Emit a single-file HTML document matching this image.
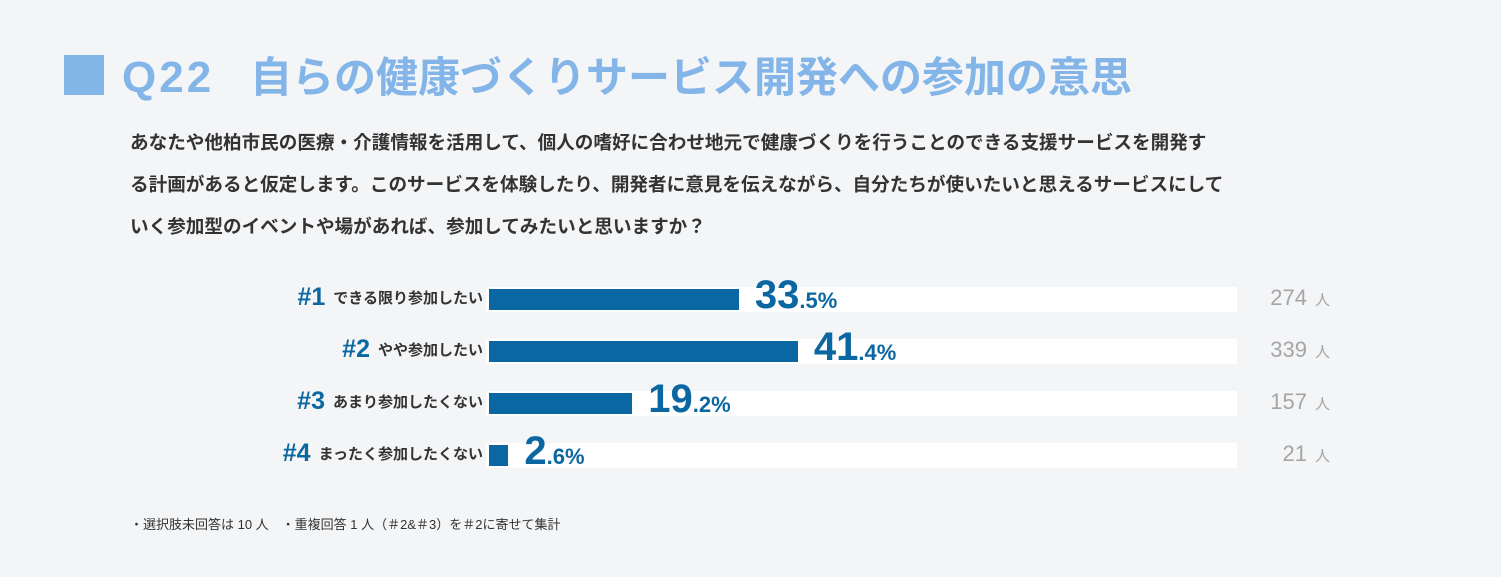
<!DOCTYPE html>
<html><head><meta charset="utf-8"><style>
body{margin:0;width:1501px;height:577px;background:#f4f5f7;font-family:"Liberation Sans","Noto Sans CJK JP",sans-serif;position:relative;overflow:hidden}
.abs{position:absolute}
#title{left:64px;top:52px;font-size:42px;font-weight:bold;color:#83b5e8;white-space:nowrap;line-height:52px}
#title .sq{display:inline-block;width:40px;height:40px;background:#83b5e8;vertical-align:-3px;margin-right:18px}
#title .qn{display:inline-block;width:108px;letter-spacing:3px;margin-right:20px;font-size:44px}
#q{left:130px;top:122px;font-size:18.6px;line-height:42px;color:#333;font-weight:bold;white-space:nowrap}
.lbl{position:absolute;right:1018px;font-size:15px;color:#333;font-weight:bold;white-space:nowrap}
.lbl b{color:#0b67a1;font-size:25px;margin-right:8px;vertical-align:-2px}
.cnt{position:absolute;left:1230px;width:100px;text-align:right;font-size:22px;color:#a5a5a5;white-space:nowrap}
.cnt span{font-size:15px;margin-left:8px}
.pct{position:absolute;color:#0b67a1;font-weight:bold;white-space:nowrap;font-size:40px;letter-spacing:0px}
.pct small{font-size:22px;letter-spacing:0}
#foot{left:130px;top:514px;font-size:13px;color:#333}
</style></head><body>
<div id="title" class="abs"><span class="sq"></span><span class="qn">Q22</span>自らの健康づくりサービス開発への参加の意思</div>
<div id="q" class="abs">あなたや他柏市民の医療・介護情報を活用して、個人の嗜好に合わせ地元で健康づくりを行うことのできる支援サービスを開発す<br>る計画があると仮定します。このサービスを体験したり、開発者に意見を伝えながら、自分たちが使いたいと思えるサービスにして<br>いく参加型のイベントや場があれば、参加してみたいと思いますか？</div>
<div id="chart"></div>
<div id="foot" class="abs">・選択肢未回答は 10 人　・重複回答 1 人（＃2&＃3）を＃2に寄せて集計</div>
<script>
const categories=["できる限り参加したい","やや参加したい","あまり参加したくない","まったく参加したくない"];
const percents=[33.5,41.4,19.2,2.6];
const counts=[274,339,157,21];
const x0=489,pxPer=7.46,trackEnd=1237,rowY0=299,rowStep=52;
const xs=v=>x0+v*pxPer;
const ys=i=>rowY0+i*rowStep;
const c=document.getElementById('chart');
categories.forEach((cat,i)=>{
  const y=ys(i);
  const tr=document.createElement('div');
  
  
  tr.className='abs';tr.style.cssText=`left:${x0-3}px;top:${y-12}px;width:${trackEnd-x0+3}px;height:25px;background:#fff`;
  c.appendChild(tr);
  const b=document.createElement('div');
  
  
  b.className='abs';b.style.cssText=`left:${x0}px;top:${y-10}px;width:${xs(percents[i])-x0}px;height:21px;background:#0b67a1`;
  c.appendChild(b);
  const l=document.createElement('div');
  
  
  l.className='lbl';l.style.top=(y-16)+'px';
  l.innerHTML=`<b>#${i+1}</b>${cat}`;
  c.appendChild(l);
  const p=document.createElement('div');
  
  
  p.className='pct';p.style.left=(xs(percents[i])+16)+'px';p.style.top=(y-26)+'px';
  const parts=percents[i].toFixed(1).split('.');
  p.innerHTML=`${parts[0]}<small>.${parts[1]}%</small>`;
  c.appendChild(p);
  const n=document.createElement('div');
  
  
  n.className='cnt';n.style.top=(y-14)+'px';
  n.innerHTML=`${counts[i]}<span>人</span>`;
  c.appendChild(n);
});
</script>
</body></html>
